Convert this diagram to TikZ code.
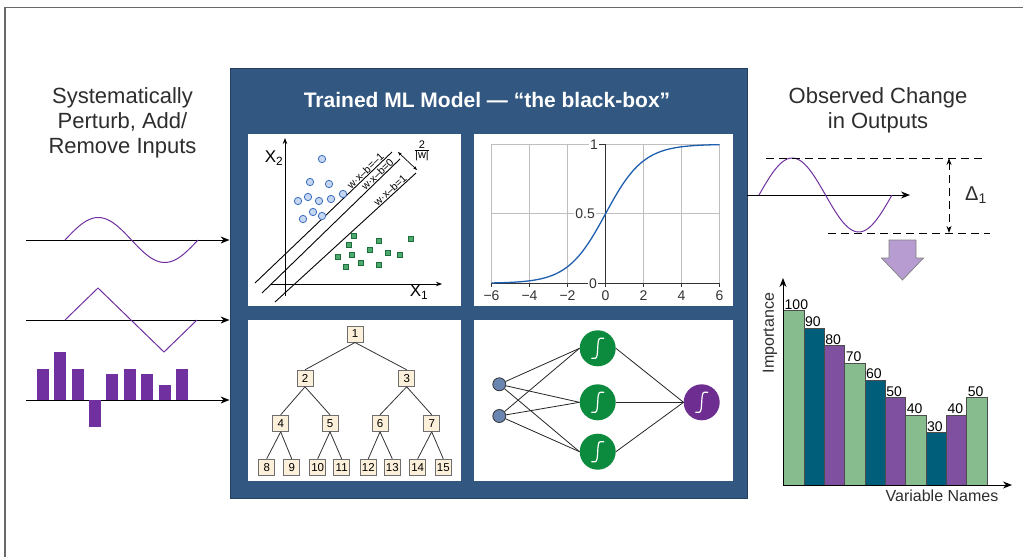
\documentclass[tikz,border=0pt]{standalone}
\usepackage{fontspec}
\setmainfont{Liberation Sans}
\usepackage{tikz}
\usetikzlibrary{arrows.meta, positioning, shapes.geometric}

\definecolor{boxblue}{RGB}{50,87,128}
\definecolor{textgray}{RGB}{45,45,45}
\definecolor{framegray}{RGB}{105,105,105}
\definecolor{sigpurple}{RGB}{112,48,160}
\definecolor{dotfill}{RGB}{197,214,240}
\definecolor{dotdraw}{RGB}{58,110,190}
\definecolor{sqfill}{RGB}{76,170,110}
\definecolor{sqdraw}{RGB}{30,110,60}
\definecolor{gridgray}{RGB}{190,190,190}
\definecolor{sigblue}{RGB}{31,95,175}
\definecolor{treefill}{RGB}{253,240,218}
\definecolor{treedraw}{RGB}{110,110,110}
\definecolor{inblue}{RGB}{106,134,176}
\definecolor{nngreen}{RGB}{12,138,62}
\definecolor{nnpurple}{RGB}{110,45,145}
\definecolor{bargreen}{RGB}{134,188,142}
\definecolor{barteal}{RGB}{0,94,123}
\definecolor{barpurple}{RGB}{127,80,159}
\definecolor{lavender}{RGB}{182,156,208}

\begin{document}
\begin{tikzpicture}[x=1pt, y=-1pt,
    arrow/.style={-{Stealth[length=9pt, width=7pt]}, line width=1pt},
    smallarrow/.style={-{Stealth[length=6pt, width=4.5pt]}, line width=0.8pt},
    signal/.style={sigpurple, line width=1pt},
    bigtext/.style={align=center, text=textgray, font=\fontsize{22}{25}\selectfont},
    blackbox/.style={rectangle, fill=boxblue, draw=boxblue!75!black, line width=0.8pt, inner sep=0pt},
    panel/.style={rectangle, fill=white, inner sep=0pt},
    treenode/.style={rectangle, draw=treedraw, fill=treefill, line width=1pt,
                     minimum size=16pt, inner sep=0pt, font=\fontsize{11.5}{11.5}\selectfont},
    treeedge/.style={draw=black!80, line width=0.8pt},
    innode/.style={circle, draw=black!80, fill=inblue, minimum size=13pt, inner sep=0pt, line width=0.8pt},
    hidnode/.style={circle, fill=nngreen, minimum size=36pt, inner sep=0pt},
    outnode/.style={circle, fill=nnpurple, minimum size=36pt, inner sep=0pt},
    nnedge/.style={draw=black!85, line width=0.8pt},
    gridline/.style={draw=gridgray, line width=0.9pt},
    axisline/.style={draw=black!80, line width=1pt},
    ticklabel/.style={font=\fontsize{14}{14}\selectfont, text=black!80, inner sep=1pt},
    svmlabel/.style={sloped, above, font=\fontsize{10.5}{10.5}\selectfont, inner sep=0.5pt},
    bluedot/.style={fill=dotfill, draw=dotdraw, line width=0.8pt},
    greensq/.style={fill=sqfill, draw=sqdraw, line width=0.8pt},
    dashline/.style={line width=0.9pt, dash pattern=on 8pt off 5pt},
    barbox/.style={draw=black!70, line width=0.6pt},
    barlabel/.style={anchor=south west, inner sep=1pt, font=\fontsize{14}{14}\selectfont},
    sigglyph/.pic={\draw[white, line width=1.2pt, line cap=round]
                   (-6,10) -- (-2.5,10) .. controls (1.5,10) and (-1.5,-10) .. (2.5,-10) -- (6,-10);}
]
    \useasboundingbox (0,0) rectangle (1023,557);
    \draw[framegray, line width=1.2pt] (5,557) -- (5,7.5) -- (1023,7.5);

    % ── Left: perturbed inputs ──
    \node[bigtext] (perturb) at (122.5,122.5) {Systematically\\Perturb, Add/\\Remove Inputs};

    % ── The black box and its four panels ──
    \node[blackbox, minimum width=517pt, minimum height=430pt] (box) at (488.5,283) {};
    \node[text=white, font=\bfseries\fontsize{21}{24}\selectfont] (title) at (487,99.5)
         {Trained ML Model — “the black-box”};
    \node[panel, minimum width=213pt, minimum height=172pt] (svm)   at (354.5,220)   {};
    \node[panel, minimum width=259pt, minimum height=172pt] (sigm)  at (603.5,220)   {};
    \node[panel, minimum width=213pt, minimum height=161pt] (tree)  at (354.5,400.5) {};
    \node[panel, minimum width=259pt, minimum height=161pt] (net)   at (603.5,400.5) {};

    % input signals into the box
    \coordinate (in1) at (26,240);
    \coordinate (in2) at (26,320);
    \coordinate (in3) at (26,400);
    \draw[arrow] (in1) -- (in1 -| box.west);
    \draw[arrow] (in2) -- (in2 -| box.west);
    \draw[arrow] (in3) -- (in3 -| box.west);
    \draw[signal] plot[domain=0:360, samples=72] ({65+\x/360*133}, {240-22.5*sin(\x)});
    \draw[signal] (65,320) -- (98,288) -- (164,352) -- (197,320);
    \foreach \i/\h in {0/31, 1/48, 2/31, 3/-27, 4/26, 5/31, 6/26, 7/15, 8/31}
        \fill[sigpurple] ({36.7+17.4*\i},400) rectangle ({48.7+17.4*\i},{400-\h});

    % ── SVM panel ──
    \draw[smallarrow] (285,296) -- (285,138);
    \draw[smallarrow] (271,284) -- (442,284);
    \node[font=\fontsize{17}{17}\selectfont] (x2) at (274,158) {X\textsubscript{2}};
    \node[font=\fontsize{17}{17}\selectfont] (x1) at (419,292) {X\textsubscript{1}};
    \draw[line width=0.9pt] (255,283) -- node[svmlabel, pos=0.83] {w·x–b=–1} (392,152);
    \draw[line width=0.9pt] (262,293) -- node[svmlabel, pos=0.86] {w·x–b=0}  (400,159);
    \draw[line width=0.9pt] (275,302) -- node[svmlabel, pos=0.84] {w·x–b=1}  (416,173);
    \draw[{Stealth[length=4pt,width=3pt]}-{Stealth[length=4pt,width=3pt]}, line width=0.7pt]
         (398,152) -- (417,170);
    \node[font=\fontsize{11}{11}\selectfont] (margin) at (422,151) {$\frac{\mbox{2}}{\mbox{|w|}}$};
    \foreach \x/\y in {322/159, 310/182, 329/184, 308/197, 298/201, 319/201,
                       331/199, 343/194, 313/212, 322/216, 303/219}
        \draw[bluedot] (\x,\y) circle[radius=3.7pt];
    \foreach \x/\y in {354/236, 379/241, 411/239, 349/245, 370/250, 388/253,
                       338/257, 352/255, 400/255, 361/263, 379/265, 346/267}
        \draw[greensq] (\x-2.6,\y-2.6) rectangle (\x+2.6,\y+2.6);

    % ── Sigmoid panel ──
    \foreach \v in {-6,-4,-2,2,4,6}
        \draw[gridline] ({605.5+19*\v},144.3) -- ({605.5+19*\v},283.3);
    \draw[gridline] (491.5,144.3) -- (719.5,144.3);
    \draw[gridline] (491.5,213.8) -- (719.5,213.8);
    \draw[axisline] (491.5,283.3) -- (719.5,283.3);
    \draw[axisline] (605.5,144.3) -- (605.5,283.3);
    \foreach \v in {-6,-4,-2,0,2,4,6}
        \draw[axisline] ({605.5+19*\v},283.3) -- ({605.5+19*\v},286.5);
    \node[ticklabel, anchor=east, fill=white] (yl1)  at (599,144.3) {1};
    \node[ticklabel, anchor=east, fill=white] (yl05) at (596,213.8) {0.5};
    \node[ticklabel, anchor=east, fill=white] (yl0)  at (598,283.3) {0};
    \draw[axisline] (yl1.east) -- (605.5,144.3);
    \draw[axisline] (yl0.east) -- (605.5,283.3);
    \foreach \v/\t in {-6/−6, -4/−4, -2/−2, 0/0, 2/2, 4/4, 6/6}
        \node[ticklabel] (xl\v) at ({605.5+19*\v},296) {\t};
    \draw[sigblue, line width=1.3pt] plot[domain=-6:6, samples=90]
         ({605.5+19*\x}, {283.3-139/(1+exp(-\x))});

    % ── Decision tree panel ──
    \node[treenode] (n1)  at (355,334)   {1};
    \node[treenode] (n2)  at (305,378.3) {2};
    \node[treenode] (n3)  at (406.7,378.3) {3};
    \node[treenode] (n4)  at (280.7,423.3) {4};
    \node[treenode] (n5)  at (330,423.3) {5};
    \node[treenode] (n6)  at (380,423.3) {6};
    \node[treenode] (n7)  at (431.7,423.3) {7};
    \node[treenode] (n8)  at (266.7,467.3) {8};
    \node[treenode] (n9)  at (291.7,467.3) {9};
    \node[treenode] (n10) at (317.7,467.3) {10};
    \node[treenode] (n11) at (341.7,467.3) {11};
    \node[treenode] (n12) at (368.3,467.3) {12};
    \node[treenode] (n13) at (392.3,467.3) {13};
    \node[treenode] (n14) at (417.7,467.3) {14};
    \node[treenode] (n15) at (443.3,467.3) {15};
    \foreach \a/\b in {n1/n2, n1/n3, n2/n4, n2/n5, n3/n6, n3/n7, n4/n8, n4/n9,
                       n5/n10, n5/n11, n6/n12, n6/n13, n7/n14, n7/n15}
        \draw[treeedge] (\a.south) -- (\b.north);

    % ── Neural network panel ──
    \node[innode]  (i1) at (499.3,384.3) {};
    \node[innode]  (i2) at (499.3,416)   {};
    \node[hidnode] (h1) at (597.7,348.3) {};
    \node[hidnode] (h2) at (597.7,402.3) {};
    \node[hidnode] (h3) at (597.7,451.7) {};
    \node[outnode] (o1) at (701.7,402.3) {};
    \foreach \a in {i1,i2}
        \foreach \b in {h1,h2,h3}
            \draw[nnedge] (\a) -- (\b.west);
    \foreach \b in {h1,h2,h3}
        \draw[nnedge] (\b.east) -- (o1.west);
    \pic at (h1) {sigglyph};
    \pic at (h2) {sigglyph};
    \pic at (h3) {sigglyph};
    \pic at (o1) {sigglyph};

    % ── Right: observed change ──
    \node[bigtext] (observed) at (878,110) {Observed Change\\in Outputs};
    \coordinate (outend) at (910,195);
    \draw[arrow] (box.east |- outend) -- (outend);
    \draw[signal] plot[domain=0:360, samples=72] ({759+\x/360*133}, {195-37*sin(\x)});
    \coordinate (dtop) at (949,158);
    \coordinate (dbot) at (949,233);
    \draw[dashline] (766,158) -- (985,158);
    \draw[dashline] (828,233) -- (990,233);
    \draw[dashline, {Stealth[length=7pt,width=5pt]}-{Stealth[length=7pt,width=5pt]}] (dtop) -- (dbot);
    \node[font=\fontsize{20}{20}\selectfont, text=textgray] (delta) at (976,195) {Δ\textsubscript{1}};

    % big arrow down to the chart
    \draw[fill=lavender, draw=gray, line width=0.7pt]
         (889,240) -- (916,240) -- (916,258) -- (923.5,258) -- (902.5,280)
         -- (881.5,258) -- (889,258) -- cycle;

    % ── Importance chart ──
    \coordinate (origin) at (783,485);
    \foreach \i/\v/\c in {0/100/bargreen, 1/90/barteal, 2/80/barpurple, 3/70/bargreen,
                          4/60/barteal, 5/50/barpurple, 6/40/bargreen, 7/30/barteal,
                          8/40/barpurple, 9/50/bargreen}
    {
        \draw[barbox, fill=\c] ({783.5+20.35*\i},485) rectangle ({783.5+20.35*(\i+1)},{485-1.745*\v});
        \node[barlabel] at ({783.5+20.35*\i},{485-1.745*\v}) {\v};
    }
    \draw[arrow] (origin) -- (783,278);
    \draw[arrow] (origin) -- (1012,485);
    \node[rotate=90, font=\fontsize{16}{16}\selectfont, text=textgray] (imp) at (770,333) {Importance};
    \node[font=\fontsize{16}{16}\selectfont, text=textgray] (varnames) at (942,496) {Variable Names};
\end{tikzpicture}
\end{document}
